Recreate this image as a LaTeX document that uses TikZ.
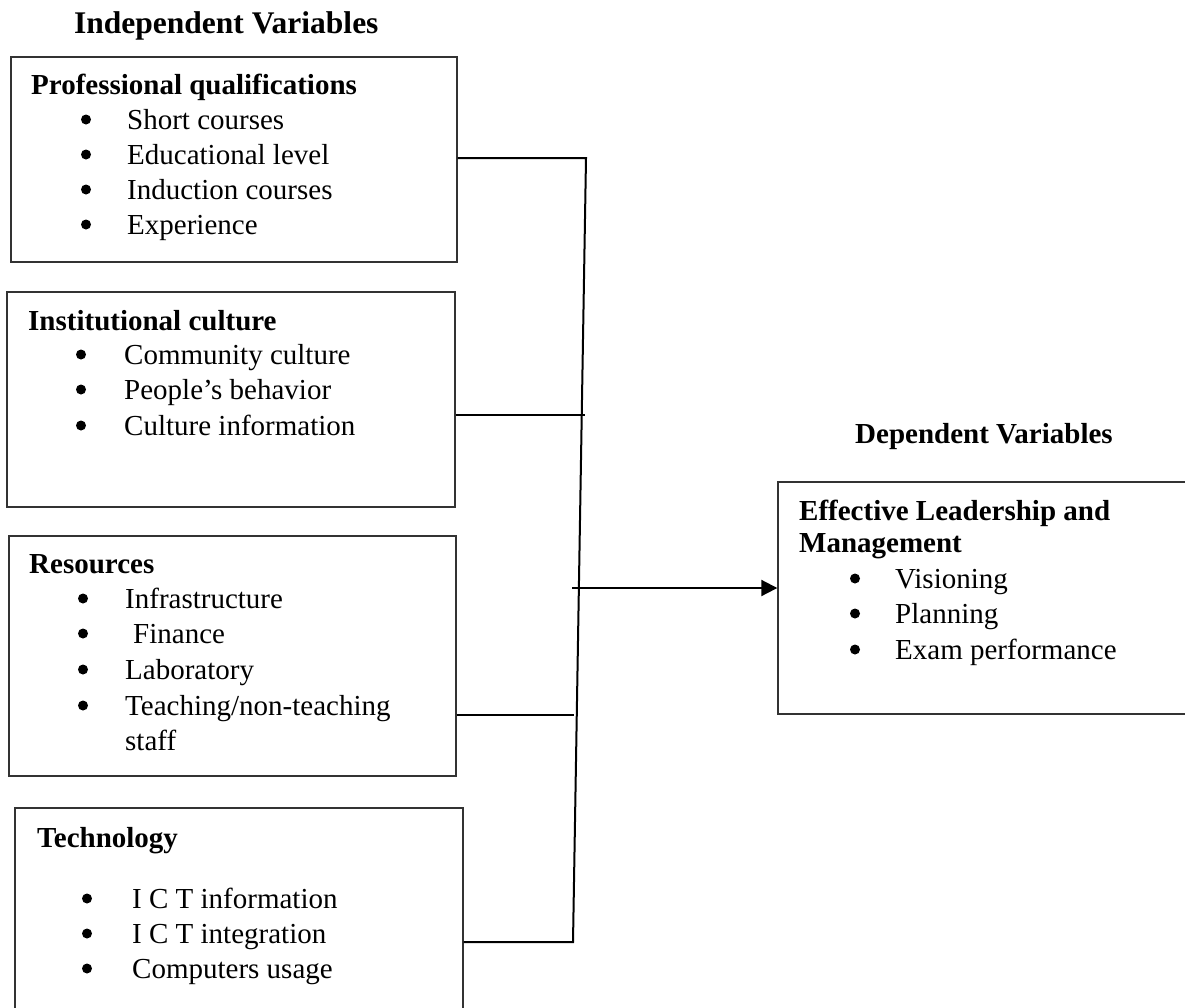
\documentclass[tikz,border=0pt]{standalone}
\usepackage{fontspec}
\setmainfont{Liberation Serif}
\usetikzlibrary{arrows.meta}
\tikzset{
  box/.style={draw=black!80, line width=1.4pt, inner sep=0pt, fill=none},
  txt/.style={anchor=base west, inner sep=0pt, font=\fontsize{29}{34}\selectfont},
  head/.style={anchor=base west, inner sep=0pt, font=\fontsize{29}{34}\selectfont\bfseries},
  bul/.style={circle, fill=black, inner sep=0pt, minimum size=10pt, yshift=9.5pt},
  title/.style={anchor=base west, inner sep=0pt, font=\fontsize{31.5}{36}\selectfont\bfseries},
  conn/.style={draw=black, line width=2pt},
}
\begin{document}
\begin{tikzpicture}[x=1pt,y=-1pt]
\clip (0,0) rectangle (1185,1007);
\fill[white] (0,0) rectangle (1185,1007);

% titles
\node[title] (indep) at (74,33) {Independent Variables};
\node[head] (dept) at (855,443) {Dependent Variables};

% box 1
\node[box, minimum width=446pt, minimum height=205pt] (pq) at (234,159.5) {};
\node[head] (pqh) at (31,94) {Professional qualifications};
\node[bul] (pqb1) at (86,129) {};
\node[txt] (pq1) at (127,129) {Short courses};
\node[bul] (pqb2) at (86,164) {};
\node[txt] (pq2) at (127,164) {Educational level};
\node[bul] (pqb3) at (86,199) {};
\node[txt] (pq3) at (127,199) {Induction courses};
\node[bul] (pqb4) at (86,234) {};
\node[txt] (pq4) at (127,234) {Experience};

% box 2
\node[box, minimum width=448pt, minimum height=215pt] (ic) at (231,399.5) {};
\node[head] (ich) at (28,330) {Institutional culture};
\node[bul] (icb1) at (81,364) {};
\node[txt] (ic1) at (124,364) {Community culture};
\node[bul] (icb2) at (81,399) {};
\node[txt] (ic2) at (124,399) {People’s behavior};
\node[bul] (icb3) at (81,435) {};
\node[txt] (ic3) at (124,435) {Culture information};

% box 3
\node[box, minimum width=447pt, minimum height=240pt] (res) at (232.5,656) {};
\node[head] (resh) at (29,573) {Resources};
\node[bul] (resb1) at (83,608) {};
\node[txt] (res1) at (125,608) {Infrastructure};
\node[bul] (resb2) at (83,643) {};
\node[txt] (res2) at (133,643) {Finance};
\node[bul] (resb3) at (83,679) {};
\node[txt] (res3) at (125,679) {Laboratory};
\node[bul] (resb4) at (83,715) {};
\node[txt] (res4) at (125,715) {Teaching/non-teaching};
\node[txt] (res5) at (125,750) {staff};

% box 4
\node[box, minimum width=448pt, minimum height=230pt] (tech) at (239,923) {};
\node[head] (techh) at (37,847) {Technology};
\node[bul] (techb1) at (87,908) {};
\node[txt] (tech1) at (132,908) {I C T information};
\node[bul] (techb2) at (87,943) {};
\node[txt] (tech2) at (132,943) {I C T integration};
\node[bul] (techb3) at (87,978) {};
\node[txt] (tech3) at (132,978) {Computers usage};

% dependent box
\node[box, minimum width=430pt, minimum height=232pt] (dep) at (993,598) {};
\node[head] (deph1) at (799,520) {Effective Leadership and};
\node[head] (deph2) at (799,552) {Management};
\node[bul] (depb1) at (855,588) {};
\node[txt] (dep1) at (895,588) {Visioning};
\node[bul] (depb2) at (855,623) {};
\node[txt] (dep2) at (895,623) {Planning};
\node[bul] (depb3) at (855,659) {};
\node[txt] (dep3) at (895,659) {Exam performance};

% connectors
\coordinate (vtop) at (586,158);
\coordinate (vbot) at (573,942);
\coordinate (j2) at (585,415);
\coordinate (j3) at (574,715);
\coordinate (ja) at (572,588);
\draw[conn] (pq.east |- vtop) -- (vtop) -- (vbot) -- (tech.east |- vbot);
\draw[conn] (ic.east |- j2) -- (j2);
\draw[conn] (res.east |- j3) -- (j3);
\draw[conn, -{Triangle[length=16pt,width=16pt]}] (ja) -- (dep.west |- ja);
\end{tikzpicture}
\end{document}
